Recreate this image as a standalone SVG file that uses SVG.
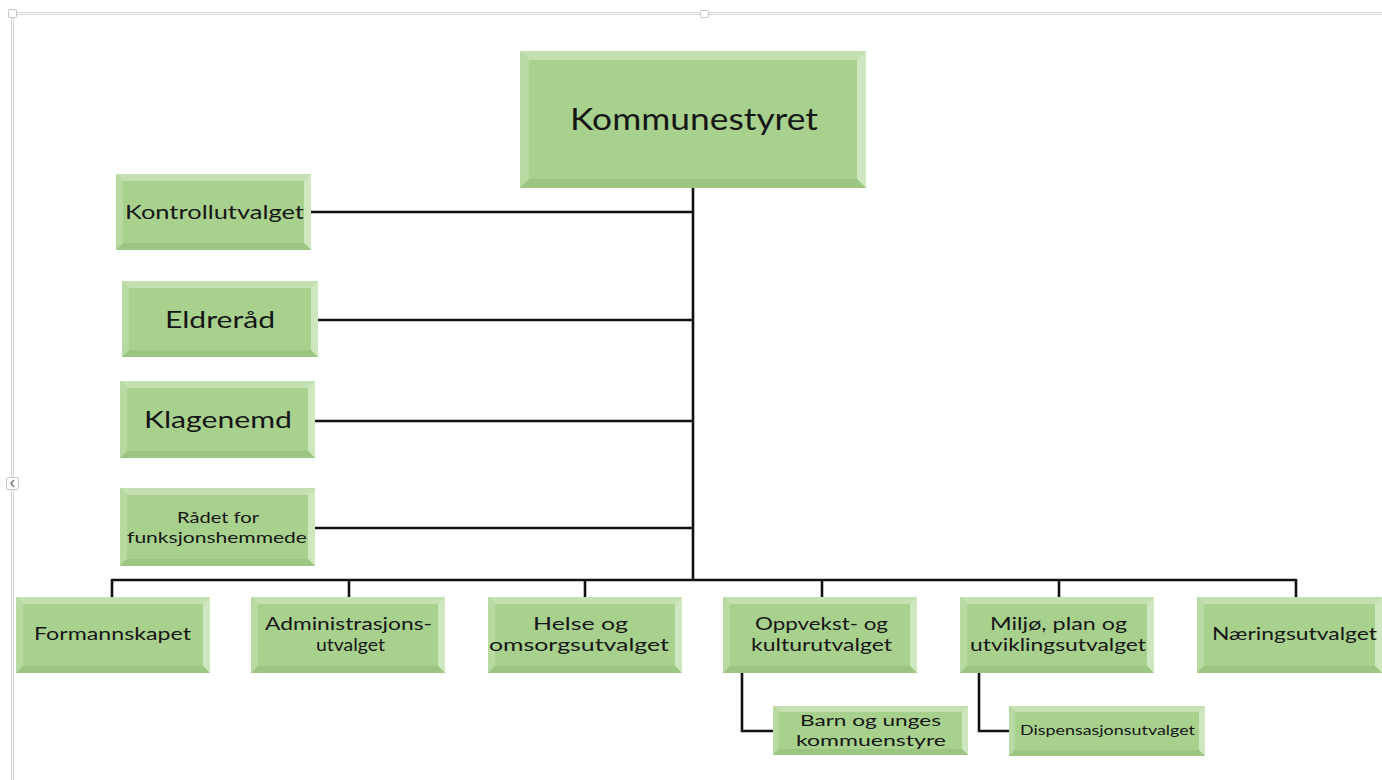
<svg xmlns="http://www.w3.org/2000/svg" width="1382" height="780" viewBox="0 0 1382 780">
<style>
.face{fill:#a9d18e}
.bt{fill:#c4e0b0}
.bl{fill:#b8d9a2}
.br{fill:#cfe7bf}
.bb{fill:#9cc582}
.t{font-family:Lato,"Open Sans","Liberation Sans",sans-serif;fill:#161616;text-anchor:middle}
.c{stroke:#111;stroke-width:2.6;fill:none}
.fr{stroke:#d6d6d6;stroke-width:1;fill:none}
.hd{fill:#fff;stroke:#c8c8c8;stroke-width:1}
</style>
<rect width="1382" height="780" fill="#fff"/>
<g id="frame">
<path class="fr" d="M13,12.5H1382M13,14.5H1382M11.5,14V780M13.5,14V780"/>
<rect class="hd" x="8.5" y="9.5" width="8" height="8" rx="1.5"/>
<rect class="hd" x="700.5" y="10.5" width="8" height="7" rx="1.5"/>
<rect class="hd" x="6.5" y="477.5" width="12" height="12" rx="1.5"/>
<path d="M14,480L11,483.5L14,487" stroke="#777" stroke-width="1.5" fill="none"/>
</g>
<g id="connectors">
<path class="c" d="M693,188V580"/>
<path class="c" d="M311,212H693M318,320H693M315,421H693M315,528H693"/>
<path class="c" d="M112,580H1296M112,579V597M349,579V597M585,579V597M822,579V597M1059,579V597M1296,579V597"/>
<path class="c" d="M742,673V731H773M979,673V731H1009"/>
</g>
<g id="kommunestyret">
<rect class="face" x="520" y="51" width="346" height="137"/>
<polygon class="bt" points="520,51 866,51 857,60 529,60"/>
<polygon class="bl" points="520,51 529,60 529,179 520,188"/>
<polygon class="br" points="866,51 866,188 857,179 857,60"/>
<polygon class="bb" points="520,188 529,179 857,179 866,188"/>
<text class="t" x="694" y="130" font-size="30" textLength="248" lengthAdjust="spacingAndGlyphs">Kommunestyret</text>
</g>
<g id="kontrollutvalget">
<rect class="face" x="116" y="174" width="195" height="76"/>
<polygon class="bt" points="116,174 311,174 304,181 123,181"/>
<polygon class="bl" points="116,174 123,181 123,243 116,250"/>
<polygon class="br" points="311,174 311,250 304,243 304,181"/>
<polygon class="bb" points="116,250 123,243 304,243 311,250"/>
<text class="t" x="214.5" y="219" font-size="19" textLength="179" lengthAdjust="spacingAndGlyphs">Kontrollutvalget</text>
</g>
<g id="eldrerad">
<rect class="face" x="122" y="281" width="196" height="76"/>
<polygon class="bt" points="122,281 318,281 311,288 129,288"/>
<polygon class="bl" points="122,281 129,288 129,350 122,357"/>
<polygon class="br" points="318,281 318,357 311,350 311,288"/>
<polygon class="bb" points="122,357 129,350 311,350 318,357"/>
<text class="t" x="220" y="328" font-size="24" textLength="110" lengthAdjust="spacingAndGlyphs">Eldreråd</text>
</g>
<g id="klagenemd">
<rect class="face" x="120" y="381" width="195" height="77"/>
<polygon class="bt" points="120,381 315,381 308,388 127,388"/>
<polygon class="bl" points="120,381 127,388 127,451 120,458"/>
<polygon class="br" points="315,381 315,458 308,451 308,388"/>
<polygon class="bb" points="120,458 127,451 308,451 315,458"/>
<text class="t" x="218" y="428" font-size="24" textLength="148" lengthAdjust="spacingAndGlyphs">Klagenemd</text>
</g>
<g id="radet">
<rect class="face" x="120" y="488" width="195" height="78"/>
<polygon class="bt" points="120,488 315,488 308,495 127,495"/>
<polygon class="bl" points="120,488 127,495 127,559 120,566"/>
<polygon class="br" points="315,488 315,566 308,559 308,495"/>
<polygon class="bb" points="120,566 127,559 308,559 315,566"/>
<text class="t" x="218" y="523" font-size="16" textLength="82" lengthAdjust="spacingAndGlyphs">Rådet for</text>
<text class="t" x="217" y="543" font-size="16" textLength="180" lengthAdjust="spacingAndGlyphs">funksjonshemmede</text>
</g>
<g id="formannskapet">
<rect class="face" x="16" y="597" width="194" height="76"/>
<polygon class="bt" points="16,597 210,597 203,604 23,604"/>
<polygon class="bl" points="16,597 23,604 23,666 16,673"/>
<polygon class="br" points="210,597 210,673 203,666 203,604"/>
<polygon class="bb" points="16,673 23,666 203,666 210,673"/>
<text class="t" x="112.5" y="640" font-size="18" textLength="157" lengthAdjust="spacingAndGlyphs">Formannskapet</text>
</g>
<g id="administrasjonsutvalget">
<rect class="face" x="251" y="597" width="194" height="76"/>
<polygon class="bt" points="251,597 445,597 438,604 258,604"/>
<polygon class="bl" points="251,597 258,604 258,666 251,673"/>
<polygon class="br" points="445,597 445,673 438,666 438,604"/>
<polygon class="bb" points="251,673 258,666 438,666 445,673"/>
<text class="t" x="348.5" y="630" font-size="17" textLength="167" lengthAdjust="spacingAndGlyphs">Administrasjons-</text>
<text class="t" x="350.5" y="651" font-size="17" textLength="69" lengthAdjust="spacingAndGlyphs">utvalget</text>
</g>
<g id="helse">
<rect class="face" x="488" y="597" width="194" height="76"/>
<polygon class="bt" points="488,597 682,597 675,604 495,604"/>
<polygon class="bl" points="488,597 495,604 495,666 488,673"/>
<polygon class="br" points="682,597 682,673 675,666 675,604"/>
<polygon class="bb" points="488,673 495,666 675,666 682,673"/>
<text class="t" x="580.5" y="630" font-size="17" textLength="95" lengthAdjust="spacingAndGlyphs">Helse og</text>
<text class="t" x="579" y="651" font-size="17" textLength="180" lengthAdjust="spacingAndGlyphs">omsorgsutvalget</text>
</g>
<g id="oppvekst">
<rect class="face" x="723" y="597" width="194" height="76"/>
<polygon class="bt" points="723,597 917,597 910,604 730,604"/>
<polygon class="bl" points="723,597 730,604 730,666 723,673"/>
<polygon class="br" points="917,597 917,673 910,666 910,604"/>
<polygon class="bb" points="723,673 730,666 910,666 917,673"/>
<text class="t" x="821.5" y="630" font-size="17" textLength="133" lengthAdjust="spacingAndGlyphs">Oppvekst- og</text>
<text class="t" x="821.5" y="651" font-size="17" textLength="141" lengthAdjust="spacingAndGlyphs">kulturutvalget</text>
</g>
<g id="miljo">
<rect class="face" x="960" y="597" width="194" height="76"/>
<polygon class="bt" points="960,597 1154,597 1147,604 967,604"/>
<polygon class="bl" points="960,597 967,604 967,666 960,673"/>
<polygon class="br" points="1154,597 1154,673 1147,666 1147,604"/>
<polygon class="bb" points="960,673 967,666 1147,666 1154,673"/>
<text class="t" x="1058.5" y="630" font-size="17" textLength="137" lengthAdjust="spacingAndGlyphs">Miljø, plan og</text>
<text class="t" x="1058" y="651" font-size="17" textLength="176" lengthAdjust="spacingAndGlyphs">utviklingsutvalget</text>
</g>
<g id="naering">
<rect class="face" x="1197" y="597" width="185" height="76"/>
<polygon class="bt" points="1197,597 1382,597 1375,604 1204,604"/>
<polygon class="bl" points="1197,597 1204,604 1204,666 1197,673"/>
<polygon class="br" points="1382,597 1382,673 1375,666 1375,604"/>
<polygon class="bb" points="1197,673 1204,666 1375,666 1382,673"/>
<text class="t" x="1294.5" y="640" font-size="18" textLength="165" lengthAdjust="spacingAndGlyphs">Næringsutvalget</text>
</g>
<g id="barn">
<rect class="face" x="773" y="706" width="195" height="49"/>
<polygon class="bt" points="773,706 968,706 962,712 779,712"/>
<polygon class="bl" points="773,706 779,712 779,749 773,755"/>
<polygon class="br" points="968,706 968,755 962,749 962,712"/>
<polygon class="bb" points="773,755 779,749 962,749 968,755"/>
<text class="t" x="870.5" y="726" font-size="16" textLength="141" lengthAdjust="spacingAndGlyphs">Barn og unges</text>
<text class="t" x="871" y="746" font-size="16" textLength="150" lengthAdjust="spacingAndGlyphs">kommuenstyre</text>
</g>
<g id="dispensasjonsutvalget">
<rect class="face" x="1009" y="706" width="196" height="50"/>
<polygon class="bt" points="1009,706 1205,706 1199,712 1015,712"/>
<polygon class="bl" points="1009,706 1015,712 1015,750 1009,756"/>
<polygon class="br" points="1205,706 1205,756 1199,750 1199,712"/>
<polygon class="bb" points="1009,756 1015,750 1199,750 1205,756"/>
<text class="t" x="1107.5" y="735" font-size="13" textLength="175" lengthAdjust="spacingAndGlyphs">Dispensasjonsutvalget</text>
</g>
</svg>
